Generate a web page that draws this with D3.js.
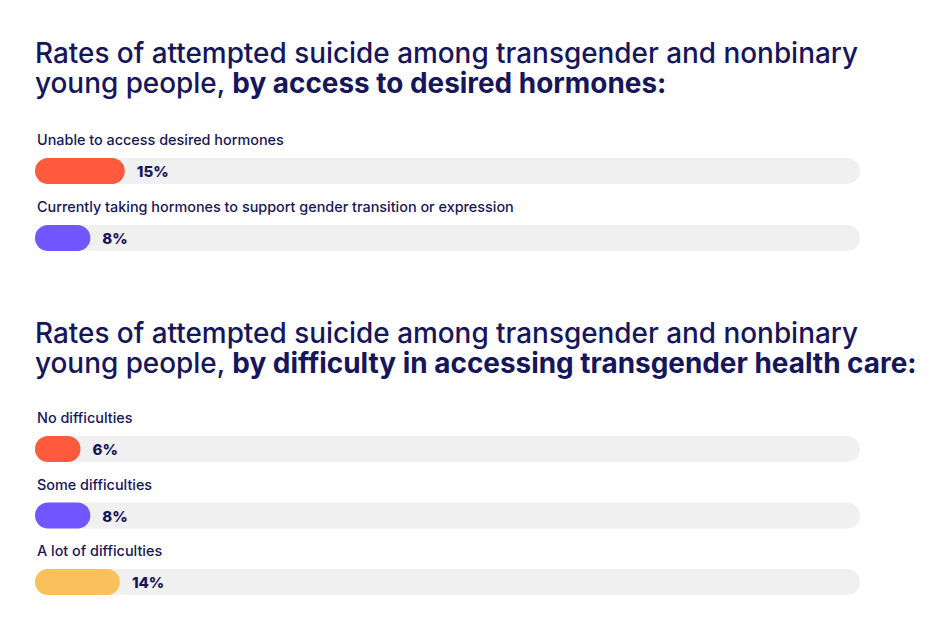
<!DOCTYPE html>
<html><head><meta charset="utf-8">
<script src="https://cdn.jsdelivr.net/npm/d3@7"></script>
<style>body{margin:0;background:#fff}svg{display:block}</style>
</head><body>
<svg id="c" width="945" height="633"></svg>
<script>
const titleRegular = "Rates of attempted suicide among transgender and nonbinary";
const titleLine2Regular = "young people, ";
const title1Bold = "by access to desired hormones:";
const title2Bold = "by difficulty in accessing transgender health care:";

const hormoneCategories = ["Unable to access desired hormones", "Currently taking hormones to support gender transition or expression"];
const hormoneValues = [15, 8];
const difficultyCategories = ["No difficulties", "Some difficulties", "A lot of difficulties"];
const difficultyValues = [6, 8, 14];
const barColors = ["#FF5A3D", "#7256FF", "#FAC05B"];

const navy = "#16165C";
const svg = d3.select("#c");
const font = "Inter, 'Noto Sans', sans-serif";

const x = d3.scaleLinear().domain([0, 100]).range([16, 508]);
const trackX0 = 35, trackX1 = 860, barH = 26;

function title(y, line2bold) {
  svg.append("text").attr("x", 35).attr("y", y)
    .attr("font-family", font).attr("font-size", 27.9).attr("font-weight", 500).attr("fill", navy)
    .text(titleRegular);
  const t2 = svg.append("text").attr("x", 35).attr("y", y + 30)
    .attr("font-family", font).attr("font-size", 27.9).attr("font-weight", 500).attr("fill", navy);
  t2.append("tspan").text(titleLine2Regular);
  t2.append("tspan").attr("font-weight", 700).text(line2bold);
}

function section(cats, vals, labelY0, step) {
  const g = svg.append("g");
  cats.forEach((c, i) => {
    const ly = labelY0 + i * step;
    g.append("text").attr("x", 37).attr("y", ly)
      .attr("font-family", font).attr("font-size", 14.4).attr("font-weight", 500).attr("fill", navy)
      .text(c);
    const ty = ly + 13;
    g.append("rect").attr("x", trackX0).attr("y", ty).attr("width", trackX1 - trackX0)
      .attr("height", barH).attr("rx", barH / 2).attr("fill", "#F0F0F0");
    const w = x(vals[i]);
    g.append("rect").attr("x", trackX0).attr("y", ty).attr("width", w)
      .attr("height", barH).attr("rx", barH / 2).attr("fill", barColors[i]);
    g.append("text").attr("x", trackX0 + w + 12).attr("y", ty + barH / 2 + 6)
      .attr("font-family", font).attr("font-size", 15).attr("font-weight", 800)
      .attr("fill", navy).text(vals[i] + "%");
  });
}

title(63, title1Bold);
section(hormoneCategories, hormoneValues, 145, 67);
title(343, title2Bold);
section(difficultyCategories, difficultyValues, 423, 66.5);
</script>
</body></html>
